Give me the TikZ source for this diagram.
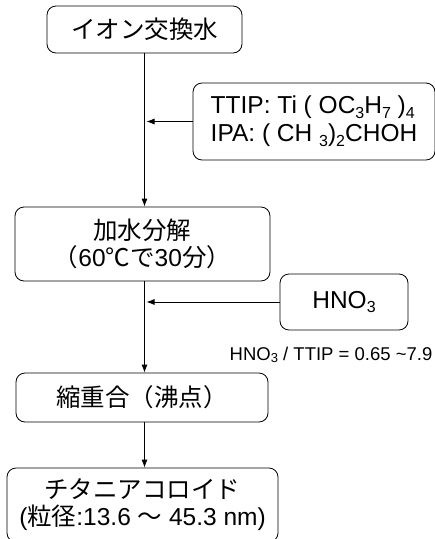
\documentclass[tikz,border=0pt]{standalone}
\usepackage{fontspec}
\setmainfont{Liberation Sans}
\newfontfamily\jp{Noto Sans CJK JP}
\usetikzlibrary{positioning,arrows.meta}
\newcommand{\chsub}[1]{\raisebox{-0.35ex}{\fontsize{16}{16}\selectfont #1}}
\tikzset{
  pbox/.style={rectangle,draw=black,rounded corners=9pt,align=center,
    inner sep=0pt,line width=0.8pt,font=\fontsize{24.5}{27}\selectfont},
  arrow/.style={-{Latex[length=8pt,width=6pt]},draw=black,line width=0.8pt},
  note/.style={font=\fontsize{18.5}{20}\selectfont}
}
\begin{document}
\begin{tikzpicture}[x=1pt,y=-1pt]
  \useasboundingbox (0,0) rectangle (435,539);
  \node[pbox, minimum width=195pt, minimum height=47pt] (water) at (144.5,29.5)
    {\jp イオン交換水};
  \node[pbox, minimum width=242pt, minimum height=77pt, align=left,
    font=\fontsize{24.5}{28}\selectfont] (ttip) at (314,121.5)
    {TTIP: Ti ( OC\chsub{3}H\chsub{7} )\chsub{4}\\
     IPA: ( CH \chsub{3})\chsub{2}CHOH};
  \node[pbox, minimum width=255pt, minimum height=74pt] (hydro) at (142.5,244)
    {{\jp 加水分解}\\{\jp （}60{\jp ℃で}30{\jp 分）}};
  \node[pbox, minimum width=128pt, minimum height=56pt] (hno3) at (344,302)
    {HNO\chsub{3}};
  \node[note] (ratio) at (331,355)
    {HNO{\fontsize{13}{13}\selectfont\raisebox{-0.35ex}{3}} / TTIP = 0.65 \textasciitilde 7.9};
  \node[pbox, minimum width=252pt, minimum height=49pt] (cond) at (142,397.5)
    {\jp 縮重合（沸点）};
  \node[pbox, minimum width=271pt, minimum height=74pt] (colloid) at (142.5,505)
    {{\jp チタニアコロイド}\\({\jp 粒径}:13.6 {\jp ～} 45.3 nm)};
  % main flow
  \draw[arrow] (water.south) -- (water.south |- hydro.north);
  \draw[arrow] (water.south |- hydro.south) -- (water.south |- cond.north);
  \draw[arrow] (water.south |- cond.south) -- (water.south |- colloid.north);
  % additions
  \coordinate (join1) at ([xshift=2pt]water.south |- ttip.west);
  \coordinate (join2) at ([xshift=2pt]water.south |- hno3.west);
  \draw[arrow] (ttip.west) -- (join1);
  \draw[arrow] (hno3.west) -- (join2);
\end{tikzpicture}
\end{document}
